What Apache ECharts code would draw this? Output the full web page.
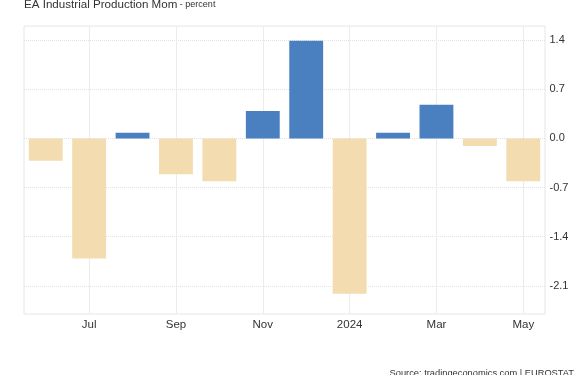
<!DOCTYPE html>
<html><head><meta charset="utf-8">
<script src="https://cdn.jsdelivr.net/npm/echarts@6/dist/echarts.min.js"></script>
<style>html,body{margin:0;padding:0;background:#fff}#c{width:585px;height:375px}</style>
</head><body><div id="c"></div>
<script>
const categories = ['Jun','Jul','Aug','Sep','Oct','Nov','Dec','2024','Feb','Mar','Apr','May'];
const values = [-0.32, -1.71, 0.08, -0.51, -0.61, 0.39, 1.39, -2.21, 0.08, 0.48, -0.11, -0.61];
const xTickLabels = ['Jul','Sep','Nov','2024','Mar','May'];
const yTickValues = [-2.1, -1.4, -0.7, 0.0, 0.7, 1.4];

const chart = echarts.init(document.getElementById('c'), null, {renderer:'canvas'});
chart.setOption({
  animation:false,
  backgroundColor:'#fff',
  title:{
    text:'{a|EA Industrial Production Mom}{b| - percent}',
    left:19, top:-6,
    textStyle:{rich:{
      a:{fontFamily:'Arial, Liberation Sans',fontSize:11.6,fontWeight:'normal',color:'#333'},
      b:{fontFamily:'Arial, Liberation Sans',fontSize:9,fontWeight:'normal',color:'#333'}
    }}
  },
  graphic:[{type:'text',right:11,top:369,style:{text:'Source: tradingeconomics.com | EUROSTAT',fontFamily:'Arial, Liberation Sans',fontSize:9.3,fill:'#333'}}],
  grid:{left:24,right:40,top:26,bottom:61,show:true,borderColor:'#e6e6e6',borderWidth:1},
  xAxis:{
    type:'category', data:categories, boundaryGap:true,
    axisLine:{show:false}, axisTick:{show:false}, splitLine:{show:false},
    axisLabel:{interval:0, margin:5, color:'#333', fontFamily:'Arial, Liberation Sans', fontSize:11.5,
      formatter:(v)=> xTickLabels.indexOf(v)>=0 ? v : ''}
  },
  yAxis:{
    type:'value', position:'right', min:-2.5, max:1.6,
    axisLine:{show:false}, axisTick:{show:false, customValues:yTickValues},
    splitLine:{show:false},
    axisLabel:{customValues:yTickValues, margin:4.5, color:'#333', fontFamily:'Arial, Liberation Sans', fontSize:11,
      formatter:(v)=>v.toFixed(1)}
  },
  series:[{
    type:'bar', data:values, barWidth:'78%',
    itemStyle:{color:(p)=> p.value>=0 ? '#4a7fc0' : '#f3dcb0'},
    markLine:{
      silent:true, symbol:'none', label:{show:false}, z:0,
      data:[
        ...yTickValues.map(v=>({yAxis:v, lineStyle:{color:'#e2e2e2',type:'dotted',width:1}})),
        ...xTickLabels.map(c=>({xAxis:c, lineStyle:{color:'#ececec',type:'solid',width:1}}))
      ]
    }
  }]
});
</script></body></html>
